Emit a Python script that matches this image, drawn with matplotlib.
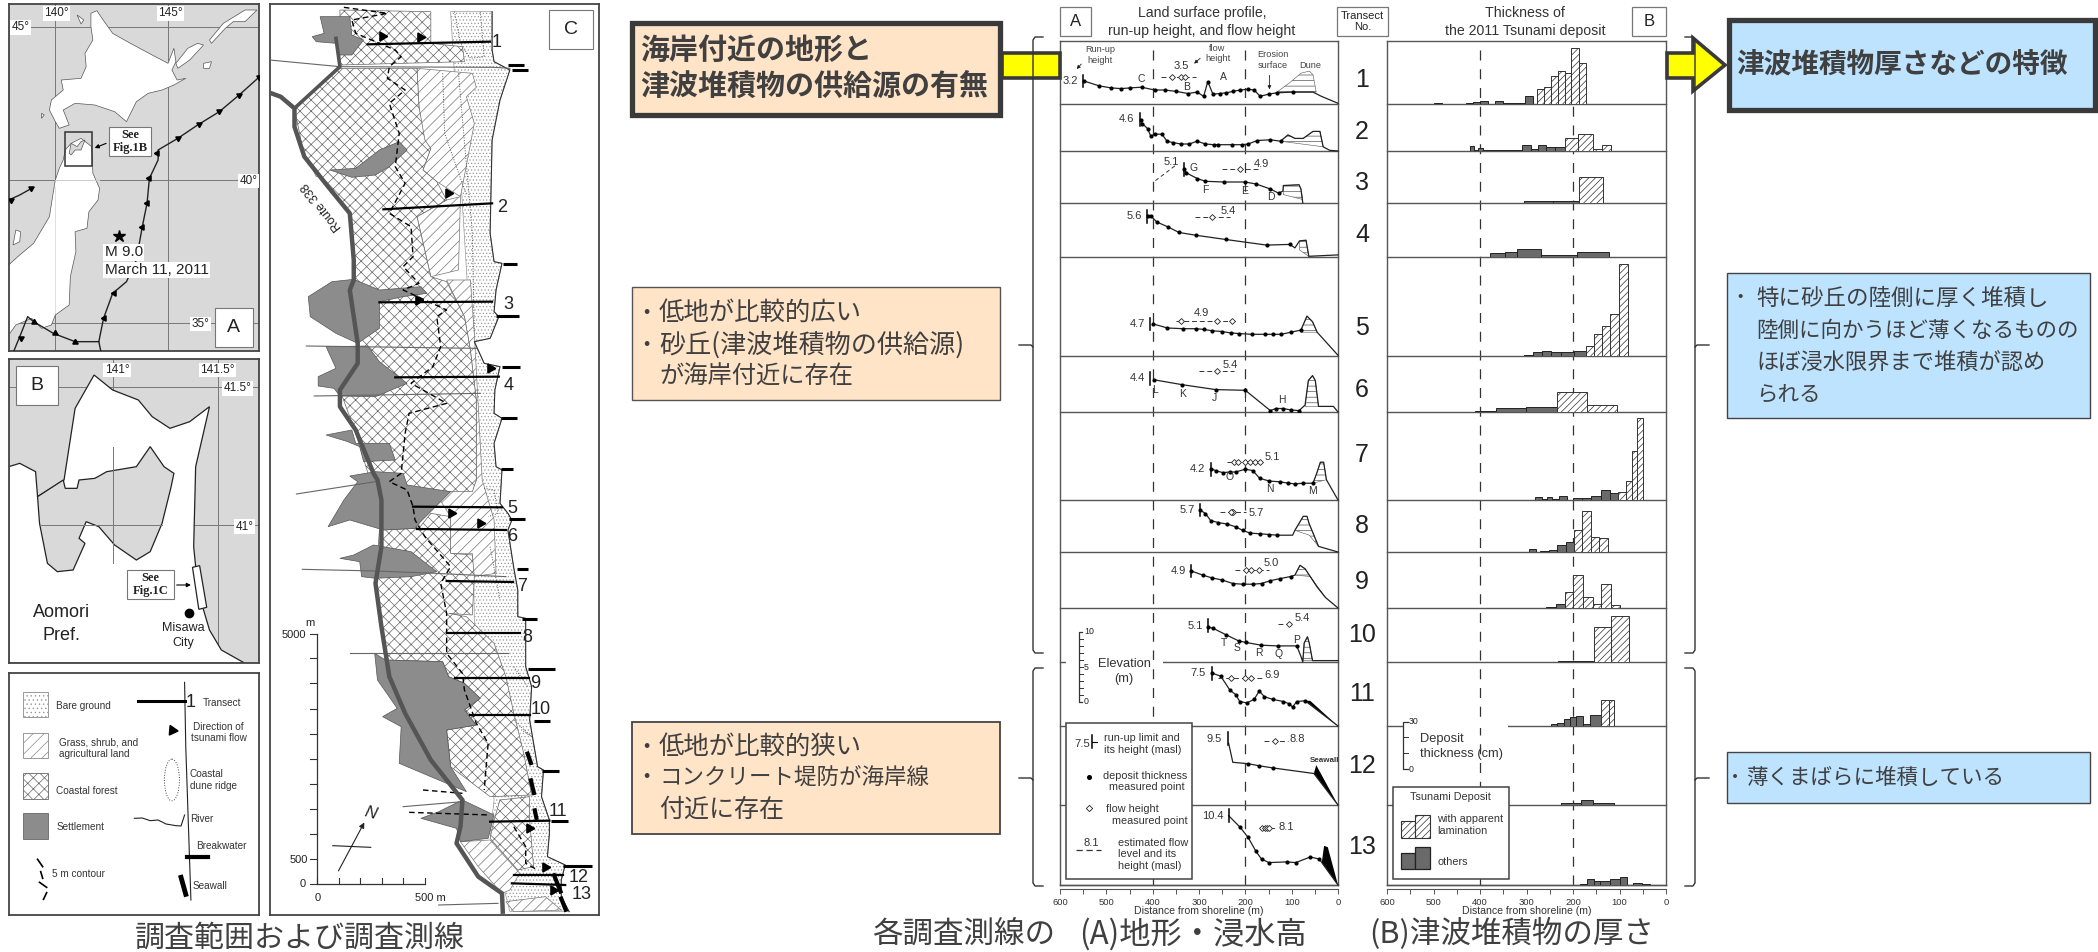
import numpy as np
import matplotlib
matplotlib.use("Agg")
import matplotlib.pyplot as plt
from matplotlib.patches import Polygon, Rectangle, Ellipse

W, H = 2098, 952
JP = ['Noto Sans CJK JP', 'DejaVu Sans']
plt.rcParams['font.family'] = ['Liberation Sans', 'DejaVu Sans']
plt.rcParams['hatch.linewidth'] = 0.5

# row boundaries of the two transect panels, figure pixels
ROW_TOP = [41, 104, 151, 203, 257, 356, 412, 500, 552, 608, 662, 726, 805]
ROW_BOT = [104, 151, 203, 257, 356, 412, 500, 552, 608, 662, 726, 805, 885]
ROW_NO_Y = [80, 132, 183, 235, 328, 390, 455, 526, 582, 635, 694, 766, 847]

# panel A: land surface profile, distance from shoreline (m), elevation (m)
D1 = [549, 516, 490, 468, 448, 424, 396, 374, 349, 324, 304, 290, 281, 270, 255, 241, 227, 211, 194, 181, 168, 150, 132, 97, 54, 36, 0]
E1 = [3.3, 2.6, 2.3, 2.2, 2.3, 2.4, 2.0, 2.0, 1.8, 1.5, 1.7, 1.1, 3.2, 1.4, 1.5, 1.6, 1.8, 2.0, 2.1, 2.0, 1.1, 1.4, 1.6, 1.7, 1.7, 1.1, 0.1]
D2 = [426, 422, 411, 404, 396, 380, 369, 356, 339, 321, 304, 286, 268, 258, 229, 207, 194, 174, 146, 124, 108, 93, 75, 54, 39, 32, 18, 0]
E2 = [4.5, 3.9, 3.2, 2.1, 2.4, 2.4, 1.4, 1.2, 1.0, 1.0, 1.4, 1.0, 0.9, 0.9, 0.9, 0.9, 1.0, 1.5, 1.6, 1.4, 2.3, 1.8, 1.8, 2.8, 2.8, 0.6, 0.1, 0]
D3 = [332, 327, 304, 286, 246, 200, 176, 146, 128, 119, 118, 84, 80, 76]
E3 = [4.9, 4.3, 3.5, 3.1, 3.0, 3.0, 2.7, 2.0, 1.4, 1.7, 2.5, 2.6, 2.0, 0]
D4 = [411, 403, 391, 367, 343, 306, 242, 154, 104, 93, 83, 69, 63, 0]
E4 = [5.9, 5.8, 5.0, 4.3, 3.5, 3.1, 2.5, 1.7, 1.8, 1.3, 2.3, 2.4, 0.1, 0.3]
D5 = [400, 368, 334, 306, 290, 271, 251, 232, 213, 185, 157, 141, 122, 102, 80, 67, 55, 45, 0]
E5 = [4.6, 4.0, 3.9, 3.9, 3.8, 3.6, 3.5, 3.3, 3.2, 3.1, 3.1, 3.1, 3.1, 3.4, 3.7, 5.7, 4.9, 3.4, 0.1]
D6 = [397, 336, 264, 200, 146, 134, 119, 102, 84, 71, 64, 55, 49, 42, 10, 0]
E6 = [4.6, 3.9, 3.2, 3.1, 0.2, 0.5, 0.5, 0.3, 0.2, 1.0, 4.5, 5.2, 4.5, 0.8, 0.8, 0]
D7 = [275, 264, 248, 234, 221, 200, 184, 169, 148, 125, 107, 93, 75, 54, 46, 38, 31, 25, 0]
E7 = [4.5, 4.2, 3.9, 4.0, 4.0, 4.4, 4.2, 3.1, 2.7, 2.6, 2.4, 2.3, 2.4, 2.4, 3.8, 5.4, 5.4, 2.9, 0]
D8 = [298, 286, 275, 258, 240, 221, 206, 190, 168, 149, 131, 98, 93, 75, 67, 62, 42, 0]
E8 = [6.0, 5.5, 4.5, 4.2, 4.0, 3.6, 3.1, 2.7, 2.6, 2.5, 2.4, 2.4, 3.1, 5.1, 5.1, 4.0, 0.8, 0]
D9 = [317, 292, 272, 250, 227, 206, 184, 165, 146, 125, 102, 93, 82, 71, 45, 27, 0]
E9 = [5.3, 4.7, 4.3, 4.0, 3.5, 3.4, 3.4, 3.5, 3.9, 4.2, 4.5, 4.7, 6.1, 5.6, 3.0, 1.5, 0]
D10 = [280, 269, 242, 214, 199, 166, 129, 89, 80, 76, 73, 66, 62, 55, 0]
E10 = [5.0, 4.8, 3.9, 3.0, 2.8, 2.4, 2.3, 2.3, 0.8, 0, 2.7, 3.6, 2.7, 0.2, 0.2]
D11 = [273, 253, 233, 221, 212, 197, 181, 170, 159, 141, 118, 106, 98, 89, 71, 0]
E11 = [7.6, 7.1, 5.1, 4.5, 3.5, 3.3, 3.8, 5.0, 4.2, 3.8, 3.5, 3.2, 2.7, 3.5, 3.6, 0]
D12 = [236, 227, 194, 170, 141, 52, 0]
E12 = [8.8, 6.1, 5.9, 5.6, 5.3, 4.5, 0]
D13 = [236, 212, 194, 177, 165, 149, 111, 91, 60, 40, 35, 0]
E13 = [9.9, 8.3, 6.8, 4.8, 3.7, 3.2, 3.3, 3.2, 4.0, 3.7, 3.2, 0]
PROF_D = [D1, D2, D3, D4, D5, D6, D7, D8, D9, D10, D11, D12, D13]
PROF_E = [E1, E2, E3, E4, E5, E6, E7, E8, E9, E10, E11, E12, E13]
# which profile points carry a deposit thickness dot (first, last+1)
DOT_RANGE = [(0, 24), (0, 20), (0, 9), (0, 9), (0, 15), (0, 9), (0, 14), (0, 11), (0, 11), (0, 8), (0, 15), (2, 5), (1, 10)]

# dune outlines, hatched
DUNE_D = [[132, 105, 80, 62, 54, 47], [124, 108, 93, 75, 54, 39, 32], [118, 84, 80, 76, 118], [83, 69, 63, 83],
          [80, 67, 55, 45, 80], [71, 64, 55, 49, 42, 71], [46, 38, 31, 25, 54], [93, 75, 67, 62, 42, 62],
          [93, 82, 71, 45, 27, 60], [73, 66, 62, 55, 76]]
DUNE_E = [[1.7, 3.0, 4.4, 4.7, 4.2, 1.7], [1.4, 2.3, 1.8, 1.8, 2.8, 2.8, 0.6], [2.5, 2.6, 2.0, 0.5, 1.2], [2.3, 2.4, 0.1, 1.0],
          [3.7, 5.7, 4.9, 3.4, 3.4], [1.0, 4.5, 5.2, 4.5, 0.8, 0.8], [3.8, 5.4, 5.4, 2.9, 2.4], [3.1, 5.1, 5.1, 4.0, 0.8, 2.4],
          [4.7, 6.1, 5.6, 3.0, 1.5, 4.5], [2.7, 3.6, 2.7, 0.2, 0.2]]
# seawalls of transects 11, 12, 13
WALL_D = [[71, 60, 0], [52, 47, 0], [35, 30, 22, 0]]
WALL_E = [[3.6, 3.6, 0], [4.5, 5.7, 0], [3.2, 5.6, 5.4, 0]]

# run-up limit
RUNUP_D = [550, 427, 333, 412, 405, 405, 275, 298, 317, 280, 273, 238, 236]
RUNUP_E = [3.3, 4.5, 4.8, 5.8, 4.6, 4.8, 4.4, 6.0, 5.3, 5.2, 7.5, 9.5, 9.9]
RUNUP_TXT = ['3.2', '4.6', '', '5.6', '4.7', '4.4', '4.2', '5.7', '4.9', '5.1', '7.5', '9.5', '10.4']

# flow height
FLOW_MARK = [[359, 339, 330], [], [212], [271], [339, 262, 229], [262], [225, 216, 200, 189, 179, 169],
             [229, 226, 232], [199, 187, 170], [106], [231, 200, 187], [135], [163, 157, 153, 148]]
FLOW_FROM = [383, None, 250, 308, 350, 301, 239, 254, 222, 130, 260, 159, 163]
FLOW_TO = [307, None, 172, 234, 216, 225, 161, 199, 149, 98, 163, 108, 134]
FLOW_E = [3.9, None, 4.8, 5.7, 5.0, 5.8, 5.4, 5.7, 5.4, 5.5, 6.9, 9.1, 8.1]
FLOW_TXT = ['3.5', '', '4.9', '5.4', '4.9', '5.4', '5.1', '5.7', '5.0', '5.4', '6.9', '8.8', '8.1']
FLOW_TXT_D = [339, 0, 166, 238, 295, 232, 141, 177, 144, 78, 143, 87, 111]
FLOW_TXT_E = [5.4, 0, 5.6, 6.6, 6.1, 6.7, 6.1, 5.6, 6.5, 6.3, 7.3, 9.4, 8.3]

# site letters: row, distance, elevation
LETTER = ['C', 'B', 'A', 'G', 'F', 'E', 'D', 'L', 'K', 'J', 'I', 'H', 'O', 'N', 'M', 'T', 'S', 'R', 'Q', 'P']
LETTER_ROW = [0, 0, 0, 2, 2, 2, 2, 5, 5, 5, 5, 5, 6, 6, 6, 9, 9, 9, 9, 9]
LETTER_D = [425, 326, 247, 311, 286, 201, 145, 394, 335, 266, 200, 121, 234, 147, 56, 247, 219, 170, 128, 90]
LETTER_E = [3.5, 2.5, 3.8, 5.0, 1.8, 1.7, 0.8, 3.2, 2.6, 2.0, 1.9, 1.7, 3.3, 1.5, 1.3, 2.7, 2.0, 1.3, 1.2, 3.2]

# panel B: deposit thickness (cm), bar edges in m from shoreline
TE1 = [500, 481, 430, 416, 399, 382, 368, 351, 336, 320, 304, 286, 277, 263, 248, 233, 218, 204, 188, 173]
TH1 = [0.4, 0, 0.8, 1.5, 2, 0.3, 1.7, 0.5, 0.7, 0.6, 5.2, 0, 9.6, 10.4, 17.7, 20.8, 19.4, 35, 25.6]
TE2 = [422, 412, 404, 393, 309, 291, 276, 257, 238, 218, 190, 157, 137, 118]
TH2 = [3.1, 0.5, 2, 0.4, 3.5, 1.5, 4, 2.8, 2.5, 8, 10.4, 1.5, 3.8]
TE3 = [333, 306, 243, 188, 136]
TH3 = [0.3, 1.2, 1.3, 16]
TE4 = [379, 346, 320, 268, 191, 122]
TH4 = [2.3, 3, 5.2, 1.2, 3.3]
TE5 = [402, 305, 286, 267, 248, 226, 197, 173, 155, 137, 120, 101, 81]
TH5 = [0.3, 0.8, 2.8, 3, 2.4, 2.8, 3.2, 6.2, 14, 18.8, 26, 57.7]
TE6 = [410, 366, 301, 235, 169, 105]
TH6 = [0.5, 2.5, 3.2, 12.5, 4.2]
TE7 = [282, 266, 256, 245, 230, 212, 199, 181, 161, 139, 120, 104, 87, 73, 62, 49]
TH7 = [2, 0.5, 2, 0.5, 2.2, 0.3, 1, 1.2, 2.5, 6.2, 4.2, 5, 11.9, 30.6, 51]
TE8 = [294, 280, 272, 252, 235, 216, 198, 180, 162, 144, 125]
TH8 = [2, 0, 0.6, 1.2, 4.2, 6.2, 14, 25.6, 9.4, 9]
TE9 = [257, 237, 218, 199, 178, 158, 139, 119, 98]
TH9 = [0.6, 2.3, 10, 20.4, 7, 2.3, 15.2, 1.7]
TE10 = [257, 232, 154, 118, 79]
TH10 = [0.1, 0.5, 21.7, 28.8]
TE11 = [261, 248, 235, 220, 206, 193, 179, 164, 139, 123, 112]
TH11 = [0.2, 1.2, 2, 4.4, 5.6, 6.5, 1, 7.1, 16.5, 16.5]
TE12 = [226, 182, 156, 112]
TH12 = [1.5, 3, 1.5]
TE13 = [199, 186, 169, 155, 141, 120, 98, 83, 70, 52, 35]
TH13 = [0.2, 0.8, 3.7, 2.5, 2.5, 3.7, 4.8, 0.2, 1.2, 0.5]
THK_E = [TE1, TE2, TE3, TE4, TE5, TE6, TE7, TE8, TE9, TE10, TE11, TE12, TE13]
THK_H = [TH1, TH2, TH3, TH4, TH5, TH6, TH7, TH8, TH9, TH10, TH11, TH12, TH13]
# index of first bar with apparent lamination
LAM_FROM = [12, 9, 3, 5, 7, 3, 11, 6, 2, 2, 8, 3, 10]

# map A, traced outlines (map units)
HOKKAIDO = [(230, 40), (245, 32), (258, 55), (285, 100), (330, 130), (385, 165), (425, 190), (440, 145), (445, 185), (435, 210), (448, 240), (470, 235),
            (440, 255), (410, 270), (375, 280), (345, 305), (320, 365), (290, 335), (240, 315), (190, 310), (160, 330), (175, 375), (150, 385), (140, 365),
            (125, 330), (130, 300), (160, 270), (155, 240), (205, 235), (218, 200), (215, 160), (235, 120), (230, 80)]
HONSHU = [(180, 430), (165, 450), (160, 480), (150, 505), (140, 540), (135, 575), (125, 650), (85, 730), (45, 770), (22, 795), (22, 1005), (40, 975),
          (80, 955), (105, 985), (130, 975), (140, 945), (175, 915), (178, 830), (192, 755), (190, 695), (220, 685), (225, 635), (248, 600), (252, 565),
          (235, 520), (232, 440), (205, 415)]
ISLANDS = [[(620, 30), (650, 30), (620, 65), (590, 65), (570, 85), (535, 130), (530, 120), (565, 70)],
           [(500, 130), (515, 135), (480, 180), (450, 205), (445, 190), (475, 145)],
           [(515, 190), (535, 185), (530, 205), (515, 205)], [(40, 690), (52, 695), (50, 725), (33, 735)],
           [(195, 45), (212, 60), (205, 72)], [(105, 340), (112, 345), (105, 355)]]
MUTSU_BAY = [(180, 430), (195, 440), (205, 425), (215, 420), (205, 450), (190, 450), (180, 465), (175, 460)]
TRENCH_1 = [(655, 232), (605, 285), (555, 335), (500, 375), (450, 415), (400, 450), (400, 480), (378, 535), (372, 610), (360, 680), (345, 780),
            (320, 845), (285, 880), (262, 955), (250, 1025), (255, 1053)]
TRENCH_2 = [(250, 1025), (190, 1025), (135, 1000), (85, 965), (70, 950), (50, 1010), (35, 1053)]
TRENCH_3 = [(22, 600), (50, 585), (80, 565)]
TRI_X = [655, 605, 553, 503, 450, 398, 378, 372, 360, 288, 262, 190, 138, 87, 52, 78, 28]
TRI_Y = [232, 285, 332, 373, 415, 460, 533, 608, 682, 880, 955, 1025, 1000, 965, 1015, 565, 600]
TRI_ROT = [60, 60, 60, 60, 60, 90, 90, 90, 90, 90, 90, 0, 0, 0, 300, 60, 60]

# map B
B_LAND = [(162, 1440), (190, 1225), (238, 1125), (285, 1170), (350, 1200), (385, 1250), (430, 1285), (480, 1265), (530, 1220), (495, 1400), (490, 1640),
          (495, 1700), (510, 1810), (530, 1890), (560, 1950), (620, 1990), (22, 1990), (22, 1400), (50, 1390), (90, 1415), (95, 1490)]
B_BAY = [(95, 1490), (100, 1570), (120, 1690), (145, 1715), (185, 1710), (215, 1630), (200, 1615), (218, 1565), (250, 1580), (290, 1635), (345, 1680),
         (380, 1655), (410, 1570), (433, 1460), (440, 1420), (415, 1400), (380, 1340), (345, 1400), (270, 1415), (240, 1435), (200, 1440), (195, 1465), (165, 1465),
         (160, 1440)]
B_SITE = [(487, 1702), (505, 1697), (523, 1822), (503, 1828)]

# map C land use
COAST_C = [(1245, 35), (1245, 150), (1250, 185), (1290, 210), (1265, 300), (1245, 420), (1240, 700), (1250, 785), (1270, 790), (1255, 870), (1250, 935),
           (1262, 950), (1240, 1015), (1200, 1025), (1225, 1090), (1265, 1100), (1252, 1170), (1250, 1240), (1270, 1255), (1250, 1330), (1255, 1400), (1270, 1410),
           (1265, 1510), (1285, 1540), (1295, 1560), (1285, 1590), (1300, 1705), (1310, 1770), (1310, 1850), (1330, 1855), (1330, 2000), (1345, 2060), (1340, 2160),
           (1360, 2300), (1375, 2310), (1370, 2390), (1390, 2460), (1390, 2500), (1385, 2570), (1430, 2595), (1420, 2640), (1420, 2690), (1440, 2735)]
BARE_BACK = [(1290, 2735), (1240, 2500), (1250, 2400), (1200, 1860), (1190, 1000), (1140, 35)]
FOREST_C = [[(860, 30), (860, 195), (1175, 185), (1170, 140), (1090, 130), (1090, 35)],
            [(860, 205), (1055, 205), (1060, 320), (1075, 420), (1090, 445), (1070, 510), (1105, 545), (1130, 600), (1055, 650), (1090, 830), (1130, 845), (1175, 950),
             (1190, 1050), (1205, 1200), (1205, 1440), (1195, 1475), (1100, 1475), (1060, 1560), (1060, 1585), (975, 1590), (900, 1300), (860, 1170), (905, 1030),
             (895, 840), (885, 640), (770, 470), (745, 325)],
            [(960, 1590), (1060, 1585), (1090, 1540), (1140, 1550), (1140, 1660), (1195, 1665), (1200, 1730), (1195, 1845), (1135, 1840), (1180, 1850), (1250, 1930),
             (1280, 2030), (1300, 2140), (1325, 2260), (1345, 2385), (1240, 2390), (1140, 2300), (1130, 2190), (1205, 2175), (1175, 2130), (1215, 2095), (1175, 2050),
             (1135, 2030), (1120, 1985), (975, 1980), (950, 1740)],
            [(1240, 2515), (1250, 2460), (1265, 2400), (1340, 2390), (1340, 2460), (1350, 2600), (1310, 2610)]]
GRASS_C = [[(1055, 205), (1195, 220), (1205, 262), (1180, 290), (1200, 370), (1165, 590), (1105, 545), (1070, 510), (1090, 445), (1070, 420), (1060, 320)],
           [(1130, 600), (1165, 590), (1160, 810), (1090, 830), (1055, 650)],
           [(750, 360), (860, 370), (1005, 440), (1000, 480), (900, 530), (800, 530), (780, 480)],
           [(1130, 840), (1190, 840), (1200, 1000), (1220, 1440), (1250, 1560), (1255, 1720), (1195, 1730), (1195, 1660), (1140, 1660), (1140, 1550), (1100, 1475),
            (1195, 1470), (1205, 1440), (1205, 1200), (1190, 1050), (1175, 950)],
           [(1165, 2525), (1240, 2520), (1315, 2620), (1290, 2670), (1270, 2680), (1210, 2600)],
           [(1280, 2705), (1380, 2690), (1420, 2730), (1300, 2735)], [(930, 135), (1005, 135), (1005, 168), (930, 168)]]
SETTLE_C = [[(810, 50), (885, 50), (890, 105), (920, 120), (890, 165), (860, 165), (850, 130), (800, 125), (790, 110), (820, 100)],
            [(835, 510), (900, 505), (960, 450), (1010, 425), (1030, 450), (985, 500), (950, 525), (890, 532)],
            [(780, 890), (840, 845), (895, 838), (960, 870), (1065, 860), (1080, 880), (1020, 890), (960, 905), (960, 985), (905, 1030), (850, 1000), (785, 950)],
            [(825, 1040), (930, 1038), (960, 1085), (1030, 1150), (1000, 1165), (950, 1190), (860, 1188), (845, 1165), (805, 1158), (805, 1130), (850, 1105)],
            [(825, 1305), (890, 1290), (900, 1330), (985, 1330), (1000, 1380), (920, 1385), (910, 1340), (880, 1325)],
            [(885, 1428), (950, 1415), (1020, 1420), (1030, 1455), (1140, 1475), (1060, 1570), (1050, 1585), (970, 1590), (885, 1560), (830, 1580), (870, 1500), (905, 1445)],
            [(860, 1675), (895, 1665), (945, 1635), (1040, 1655), (1105, 1715), (1040, 1730), (950, 1735), (915, 1730), (910, 1685)],
            [(948, 1960), (975, 1980), (1120, 1985), (1135, 2030), (1175, 2050), (1215, 2095), (1175, 2130), (1205, 2175), (1130, 2190), (1140, 2300), (1180, 2375),
             (1010, 2290), (1015, 2180), (968, 2150), (1005, 2125), (955, 2040)],
            [(1065, 2455), (1110, 2435), (1170, 2400), (1250, 2445), (1235, 2515), (1165, 2525), (1155, 2485)]]
ROAD = [(682, 278), (710, 290), (745, 325), (745, 380), (770, 470), (830, 560), (885, 640), (895, 780), (895, 840), (885, 870), (895, 950), (905, 1030), (905, 1090),
        (860, 1170), (860, 1220), (900, 1290), (945, 1420), (955, 1440), (965, 1500), (965, 1640), (950, 1750), (965, 1880), (985, 2030), (1025, 2140), (1090, 2280),
        (1170, 2400), (1165, 2480), (1155, 2530), (1210, 2630), (1270, 2680), (1272, 2735)]
ROAD_BRANCH = [(745, 325), (860, 200), (850, 115)]
CONTOUR = [(870, 22), (980, 40), (890, 60), (900, 100), (1000, 150), (1015, 170), (985, 200), (980, 235), (1025, 270), (985, 310), (1010, 400), (1000, 500), (1025, 550),
           (985, 640), (1040, 680), (1045, 770), (1020, 800), (1060, 850), (1020, 870), (1130, 930), (1105, 950), (1115, 1040), (1095, 1100), (1040, 1150), (1130, 1210),
           (1035, 1240), (1025, 1300), (1015, 1420), (985, 1445), (1030, 1470), (1045, 1520), (1050, 1560), (1075, 1610), (1140, 1700), (1115, 1750), (1130, 1840), (1130, 1960),
           (1170, 2020), (1175, 2070), (1205, 2170), (1235, 2230), (1225, 2370)]
CONTOUR_2 = [(1300, 2480), (1330, 2540), (1330, 2590), (1360, 2610)]
CONTOUR_3 = [(1070, 2370), (1170, 2380)]
CONTOUR_4 = [(1035, 2437), (1240, 2445)]
RIVERS = [[(682, 180), (860, 200), (1250, 202), (1290, 205)], [(775, 1038), (1205, 1045)], [(795, 1188), (1215, 1180)],
          [(750, 1482), (950, 1445)], [(765, 1708), (950, 1713), (1100, 1720), (1280, 1730)], [(885, 1958), (1285, 1958)],
          [(1110, 2715), (1260, 2710)], [(1020, 2420), (1170, 2405)]]
DUNE_RIDGE = [[(1150, 35), (1165, 130), (1190, 175), (1225, 170), (1215, 35)], [(1120, 220), (1125, 400), (1180, 585)], [(1160, 220), (1195, 700), (1200, 1000)],
              [(1225, 1465), (1250, 1470), (1260, 1540), (1235, 1550)], [(1240, 1640), (1265, 1800)], [(1300, 2000), (1335, 2060)], [(1300, 2160), (1345, 2210), (1320, 2190)]]

TR_X0 = [930, 970, 960, 1000, 1045, 1055, 1130, 1130, 1150, 1190, 1240, 1300, 1295]
TR_Y0 = [133, 628, 907, 1132, 1520, 1587, 1743, 1898, 2035, 2145, 2465, 2625, 2650]
TR_X1 = [1240, 1245, 1245, 1262, 1270, 1280, 1298, 1315, 1338, 1340, 1390, 1425, 1430]
TR_Y1 = [125, 610, 905, 1130, 1522, 1590, 1746, 1898, 2035, 2145, 2462, 2625, 2655]
TR_LX = [1257, 1270, 1285, 1288, 1295, 1297, 1322, 1335, 1355, 1367, 1412, 1465, 1472]
TR_LY = [127, 622, 912, 1155, 1525, 1610, 1758, 1912, 2050, 2128, 2435, 2632, 2683]
BW_X0 = [1285, 1295, 1272, 1255, 1270, 1268, 1268, 1288, 1307, 1320, 1337, 1350, 1370, 1395, 1425]
BW_X1 = [1325, 1335, 1308, 1312, 1315, 1308, 1298, 1328, 1337, 1358, 1405, 1392, 1415, 1438, 1497]
BW_Y = [195, 210, 792, 948, 1100, 1253, 1408, 1557, 1708, 1857, 2006, 2162, 2313, 2463, 2598]
SW_X0 = [1333, 1342, 1352, 1400, 1418]
SW_Y0 = [2255, 2335, 2425, 2620, 2690]
SW_X1 = [1345, 1352, 1358, 1420, 1433]
SW_Y1 = [2295, 2385, 2460, 2680, 2735]
FLOW_ARROW_X = [967, 1063, 1133, 1058, 1240, 1140, 1215, 1338, 1380, 1400]
FLOW_ARROW_Y = [108, 110, 580, 900, 1105, 1540, 1570, 2485, 2600, 2670]
SCALE_TICK_Y = [1902, 1975, 2050, 2127, 2202, 2277, 2352, 2427, 2502, 2578, 2653]
SCALE_TICK_X = [803, 857, 912, 967, 1020, 1075]

LIGHT = '#D9D9D9'
GREY = '#8C8C8C'
DARK = '#3A3A3A'
TXT = '#404040'
EDGE = '#555555'
ORANGE = '#FFE4C8'
BLUE = '#BDE3FF'

fig = plt.figure(figsize=(W / 100, H / 100), dpi=100, facecolor='white')


def ax_px(x0, y0, x1, y1, **kw):
    return fig.add_axes([x0 / W, 1 - y1 / H, (x1 - x0) / W, (y1 - y0) / H], **kw)


def map_ax(x0, y0, x1, y1, bg='white', z=1):
    # traced panels: one unit is 1/2.53 px across and 1/3 px down
    ax = ax_px(x0 / 2.53, y0 / 3, x1 / 2.53, y1 / 3, zorder=z)
    ax.set_xlim(x0, x1)
    ax.set_ylim(y1, y0)
    ax.set_xticks([])
    ax.set_yticks([])
    ax.set_facecolor(bg)
    for s in ax.spines.values():
        s.set_color('#444444')
        s.set_linewidth(1.3)
    return ax


def poly(ax, pts, fc='white', ec=EDGE, lw=0.5, hatch=None, z=2):
    ax.add_patch(Polygon(pts, closed=True, facecolor=fc, edgecolor=ec, linewidth=lw, hatch=hatch, zorder=z))


def pline(ax, pts, **kw):
    ax.plot([p[0] for p in pts], [p[1] for p in pts], **kw)


def box_lab(ax, x0, y0, x1, y1, s, size=14, **kw):
    ax.add_patch(Rectangle((x0, y0), x1 - x0, y1 - y0, facecolor='white', edgecolor='#777777', linewidth=0.8, zorder=6))
    ax.text((x0 + x1) / 2, (y0 + y1) / 2, s, ha='center', va='center', fontsize=size, zorder=7, color='#222222', **kw)


# ---- map A
a = map_ax(22, 12, 655, 1053, LIGHT)
for x in [138, 424]:
    a.axvline(x, color='#777777', lw=0.7, zorder=1)
for y in [80, 540, 970]:
    a.axhline(y, color='#777777', lw=0.7, zorder=1)
poly(a, HOKKAIDO, ec='#555555')
poly(a, HONSHU, ec='#555555')
for isl in ISLANDS:
    poly(a, isl, ec='#555555')
poly(a, MUTSU_BAY, fc=LIGHT)
a.plot([138, 138], [560, 940], color='#DDDDDD', lw=0.7, zorder=3)
a.plot([138, 250], [540, 540], color='#CCCCCC', lw=0.7, zorder=3)
for tr in [TRENCH_1, TRENCH_2, TRENCH_3]:
    pline(a, tr, color='#222222', lw=1.0, zorder=4)
for x, y, r in zip(TRI_X, TRI_Y, TRI_ROT):
    a.plot(x, y, marker=(3, 0, r), ms=4.5, color='black', zorder=5)
a.add_patch(Rectangle((165, 397), 68, 100, fill=False, ec='#333333', lw=1.1, zorder=5))
a.plot(300, 708, marker='*', ms=9, color='black', zorder=5)
bb = dict(facecolor='white', edgecolor='none', pad=1)
for x, y, s in [(143, 40, '140°'), (432, 40, '145°'), (52, 82, '45°'), (628, 543, '40°'), (507, 972, '35°')]:
    a.text(x, y, s, ha='center', va='center', fontsize=8.5, bbox=bb, zorder=6, color='#222222')
a.text(265, 757, 'M 9.0', fontsize=11, va='center', bbox=bb, zorder=6, color='#222222')
a.text(265, 810, 'March 11, 2011', fontsize=11, va='center', bbox=bb, zorder=6, color='#222222')
a.add_patch(Rectangle((275, 380), 108, 88, facecolor='white', edgecolor='#777777', lw=0.8, zorder=6))
a.text(329, 424, 'See\nFig.1B', ha='center', va='center', fontsize=9, family='Liberation Serif', weight='bold', zorder=7, color='#222222', linespacing=1.1)
a.annotate('', xy=(233, 447), xytext=(275, 427), arrowprops=dict(arrowstyle='-|>', lw=0.8, color='black', mutation_scale=6), zorder=7)
box_lab(a, 543, 923, 640, 1040, 'A')

# ---- map B
b = map_ax(22, 1078, 655, 1990, LIGHT)
b.axvline(285, color='#777777', lw=0.7, zorder=1)
b.axvline(552, color='#777777', lw=0.7, zorder=1)
b.axhline(1162, color='#777777', lw=0.7, zorder=1)
b.axhline(1575, color='#777777', lw=0.7, zorder=1)
poly(b, B_LAND, ec='#222222', lw=0.9)
poly(b, B_BAY, fc=LIGHT, ec='#222222', lw=0.9)
b.plot([285, 285], [1340, 1690], color='#777777', lw=0.7, zorder=3)
b.plot([100, 410], [1575, 1575], color='#777777', lw=0.7, zorder=3)
for x, y, s in [(296, 1110, '141°'), (550, 1110, '141.5°'), (600, 1165, '41.5°'), (618, 1580, '41°')]:
    b.text(x, y, s, ha='center', va='center', fontsize=8.5, bbox=bb, zorder=6, color='#222222')
box_lab(b, 40, 1098, 147, 1215, 'B')
poly(b, B_SITE, ec='#222222', lw=0.9, z=4)
b.add_patch(Rectangle((322, 1710), 118, 88, facecolor='white', edgecolor='#777777', lw=0.8, zorder=6))
b.text(381, 1754, 'See\nFig.1C', ha='center', va='center', fontsize=9, family='Liberation Serif', weight='bold', zorder=7, color='#222222', linespacing=1.1)
b.annotate('', xy=(490, 1755), xytext=(440, 1755), arrowprops=dict(arrowstyle='-|>', lw=0.8, color='black', mutation_scale=6), zorder=7)
b.plot(478, 1838, 'o', ms=6, color='black', zorder=5)
b.text(463, 1883, 'Misawa', ha='center', va='center', fontsize=9, zorder=6, color='#222222')
b.text(463, 1928, 'City', ha='center', va='center', fontsize=9, zorder=6, color='#222222')
b.text(155, 1837, 'Aomori', ha='center', va='center', fontsize=13, zorder=6, color='#222222')
b.text(155, 1905, 'Pref.', ha='center', va='center', fontsize=13, zorder=6, color='#222222')

# ---- map legend
c = map_ax(22, 2018, 655, 2745)
lab = dict(fontsize=7.2, va='center', color='#333333')
c.add_patch(Rectangle((58, 2077), 64, 75, facecolor='white', edgecolor='#999999', lw=0.7, hatch='....'))
c.text(142, 2117, 'Bare ground', **lab)
c.add_patch(Rectangle((58, 2200), 64, 75, facecolor='white', edgecolor='#888888', lw=0.6, hatch='///'))
c.text(150, 2227, 'Grass, shrub, and', **lab)
c.text(150, 2262, 'agricultural land', **lab)
c.add_patch(Rectangle((58, 2320), 64, 77, facecolor='white', edgecolor='#666666', lw=0.6, hatch='xxx'))
c.text(142, 2372, 'Coastal forest', **lab)
c.add_patch(Rectangle((58, 2440), 64, 78, facecolor=GREY, edgecolor='#666666', lw=0.6))
c.text(142, 2481, 'Settlement', **lab)
c.plot([467, 470, 483], [2047, 2240, 2700], color='#222222', lw=0.8)
c.plot([350, 467], [2102, 2102], color='black', lw=2.2)
c.text(482, 2107, '1', fontsize=13, ha='center', va='center', color='#222222')
c.text(513, 2108, 'Transect', **lab)
c.plot(435, 2190, marker=(3, 0, 25), ms=8, color='black')
c.text(488, 2180, 'Direction of', **lab)
c.text(482, 2214, 'tsunami flow', **lab)
c.add_patch(Ellipse((435, 2340), 38, 125, fill=False, ec='#444444', lw=0.7, ls=':'))
c.text(480, 2322, 'Coastal', **lab)
c.text(480, 2357, 'dune ridge', **lab)
c.plot([340, 360, 380, 400, 420, 445, 458, 467], [2455, 2454, 2462, 2460, 2472, 2477, 2478, 2445], color='#222222', lw=0.8)
c.text(482, 2458, 'River', **lab)
c.plot([472, 525], [2572, 2572], color='black', lw=3)
c.text(497, 2538, 'Breakwater', **lab)
c.plot([458, 470], [2632, 2683], color='black', lw=3.5)
c.text(487, 2658, 'Seawall', **lab)
for x0, y0, x1, y1 in [(95, 2578, 108, 2600), (103, 2615, 108, 2635), (100, 2647, 118, 2662), (118, 2678, 110, 2698)]:
    c.plot([x0, x1], [y0, y1], color='black', lw=1.2)
c.text(132, 2623, '5 m contour', **lab)

# ---- map C
d = map_ax(682, 12, 1515, 2745, z=1)
poly(d, COAST_C + BARE_BACK, fc='white', ec='#999999', hatch='.....', z=1)
pline(d, COAST_C, color='#333333', lw=0.8, zorder=4)
for g in GRASS_C:
    poly(d, g, ec='#777777', hatch='///', z=2)
for f in FOREST_C:
    poly(d, f, ec='#666666', hatch='xxx', z=3)
for s in SETTLE_C:
    poly(d, s, fc=GREY, ec='#555555', z=4)
for r in RIVERS:
    pline(d, r, color='#666666', lw=0.8, zorder=5)
for r in DUNE_RIDGE:
    pline(d, r, color='#555555', lw=0.7, ls=':', zorder=5)
for ct in [CONTOUR, CONTOUR_2, CONTOUR_3, CONTOUR_4]:
    pline(d, ct, color='black', lw=1.0, ls=(0, (4, 2.5)), zorder=6)
pline(d, ROAD, color='#555555', lw=3.2, zorder=7, solid_joinstyle='round')
pline(d, ROAD_BRANCH, color='#555555', lw=2.6, zorder=7)
for i in range(13):
    d.plot([TR_X0[i], TR_X1[i]], [TR_Y0[i], TR_Y1[i]], color='black', lw=1.6, zorder=8)
    d.text(TR_LX[i], TR_LY[i], str(i + 1), fontsize=13, ha='center', va='center', zorder=9, color='#222222')
for x0, x1, y in zip(BW_X0, BW_X1, BW_Y):
    d.plot([x0, x1], [y, y], color='black', lw=2.2, zorder=8, solid_capstyle='butt')
for x0, y0, x1, y1 in zip(SW_X0, SW_Y0, SW_X1, SW_Y1):
    d.plot([x0, x1], [y0, y1], color='black', lw=3, zorder=8, solid_capstyle='butt')
for x, y in zip(FLOW_ARROW_X, FLOW_ARROW_Y):
    d.plot(x, y, marker=(3, 0, 30), ms=7.5, color='black', zorder=8)
d.text(815, 620, 'Route 338', rotation=128, ha='center', va='center', fontsize=9, zorder=9, color='#222222', rotation_mode='anchor')
d.plot([803, 803, 1075], [SCALE_TICK_Y[0], SCALE_TICK_Y[-1], SCALE_TICK_Y[-1]], color='#333333', lw=0.9, zorder=9)
for y in SCALE_TICK_Y:
    d.plot([785, 803], [y, y], color='#333333', lw=0.8, zorder=9)
for x in SCALE_TICK_X:
    d.plot([x, x], [2653, 2635], color='#333333', lw=0.8, zorder=9)
sc = dict(fontsize=8, ha='center', va='center', zorder=9, color='#222222')
d.text(743, 1905, '5000', **sc)
d.text(785, 1868, 'm', **sc)
d.text(755, 2580, '500', **sc)
d.text(765, 2653, '0', **sc)
d.text(803, 2693, '0', **sc)
d.text(1090, 2693, '500 m', **sc)
d.annotate('', xy=(925, 2460), xytext=(853, 2620), arrowprops=dict(arrowstyle='-|>', lw=0.8, color='#222222', mutation_scale=8), zorder=9)
d.plot([842, 938], [2537, 2542], color='#222222', lw=0.8, zorder=9)
d.text(938, 2440, 'N', fontsize=12, style='italic', ha='center', va='center', zorder=9, rotation=-15, color='#222222')
box_lab(d, 1390, 30, 1500, 148, 'C')

# ---- panels A and B of the transects
AX0, AX1 = 1060, 1338
BX0, BX1 = 1387, 1666
PX_M = 7.0   # vertical px per m of elevation
PX_CM = 1.6  # vertical px per cm of deposit

for x0, x1 in [(AX0, AX1), (BX0, BX1)]:
    fr = ax_px(x0, ROW_TOP[0], x1, ROW_BOT[-1], zorder=1)
    fr.set_xlim(600, 0)
    fr.set_ylim(0, 1)
    fr.set_xticks([])
    fr.set_yticks([])
    for s in fr.spines.values():
        s.set_color('#555555')
        s.set_linewidth(1.0)
    for dist in [400, 200]:
        fr.axvline(dist, color='#333333', lw=0.9, ls=(0, (8, 7)))
    sc_ax = ax_px(x0, 888, x1, 889, zorder=1)
    sc_ax.set_xlim(600, 0)
    sc_ax.set_yticks([])
    for k in ['top', 'left', 'right']:
        sc_ax.spines[k].set_visible(False)
    sc_ax.spines['bottom'].set_color('#555555')
    sc_ax.patch.set_alpha(0)
    sc_ax.set_xticks(np.arange(0, 601, 100))
    sc_ax.set_xticks(np.arange(0, 601, 50), minor=True)
    sc_ax.tick_params(which='both', length=3.5, width=0.7, color='#555555', direction='out', pad=3, labelsize=6.8, labelcolor='#333333')
    sc_ax.set_xlabel('Distance from shoreline (m)', fontsize=7.6, labelpad=-1, color='#333333')

for i in range(13):
    top, bot = ROW_TOP[i], ROW_BOT[i]
    # land surface
    ra = ax_px(AX0, top, AX1, bot, zorder=2)
    ra.set_xlim(600, 0)
    ra.set_ylim(0, (bot - top) / PX_M)
    ra.axis('off')
    ra.axhline(0, color='#555555', lw=1.0, clip_on=False)
    if i < len(DUNE_D):
        ra.fill(DUNE_D[i], DUNE_E[i], facecolor='white', edgecolor='#555555', lw=0.4, hatch='---', zorder=2)
    if i >= 10:
        ra.fill(WALL_D[i - 10], WALL_E[i - 10], color='black', zorder=3, lw=0)
    ra.plot(PROF_D[i], PROF_E[i], color='#222222', lw=0.9, zorder=4, clip_on=False)
    j0, j1 = DOT_RANGE[i]
    ra.plot(PROF_D[i][j0:j1], PROF_E[i][j0:j1], ls='none', marker='o', ms=2.0, color='black', zorder=5)
    ra.plot([RUNUP_D[i]] * 2, [RUNUP_E[i] - 0.9, RUNUP_E[i] + 0.9], color='black', lw=1.1, zorder=5, clip_on=False)
    if RUNUP_TXT[i]:
        ra.annotate(RUNUP_TXT[i], (RUNUP_D[i], RUNUP_E[i]), xytext=(-4, 0), textcoords='offset points', ha='right', va='center',
                    fontsize=8, color='#333333', annotation_clip=False)
    if FLOW_FROM[i] is not None:
        ra.plot([FLOW_FROM[i], FLOW_TO[i]], [FLOW_E[i]] * 2, color='#333333', lw=0.7, ls=(0, (5, 3)), zorder=5)
        ra.plot(FLOW_MARK[i], [FLOW_E[i]] * len(FLOW_MARK[i]), ls='none', marker='D', ms=3, mfc='white', mec='#222222', mew=0.6, zorder=6)
        ra.text(FLOW_TXT_D[i], FLOW_TXT_E[i], FLOW_TXT[i], fontsize=8, ha='center', va='center', color='#333333', zorder=6)
    for k, ch in enumerate(LETTER):
        if LETTER_ROW[k] == i:
            ra.text(LETTER_D[k], LETTER_E[k], ch, fontsize=7.5, ha='center', va='center', color='#333333', zorder=6)
    if i == 0:
        small = dict(fontsize=6.6, ha='center', va='center', color='#444444', linespacing=1.25)
        ra.text(513, 7.0, 'Run-up\nheight', **small)
        ra.text(260, 7.2, 'flow\nheight', **small)
        ra.text(141, 6.3, 'Erosion\nsurface', **small)
        ra.text(60, 5.5, 'Dune', **small)
        ar = dict(arrowstyle='-|>', lw=0.6, color='#222222', mutation_scale=5)
        ra.annotate('', xy=(568, 4.7), xytext=(550, 6.0), arrowprops=ar)
        ra.annotate('', xy=(315, 5.5), xytext=(293, 6.8), arrowprops=ar)
        ra.annotate('', xy=(148, 1.7), xytext=(148, 4.5), arrowprops=ar)
    if i == 2:
        ra.plot([394, 352], [3.2, 5.3], color='#333333', lw=0.7, ls=(0, (4, 3)))
        ra.text(359, 5.9, '5.1', fontsize=8, ha='center', va='center', color='#333333')
    if i == 11:
        ra.text(28, 6.4, 'Seawall', fontsize=5.8, ha='center', va='center', color='#333333', weight='bold')

    # deposit
    rb = ax_px(BX0, top, BX1, bot, zorder=2)
    rb.set_xlim(600, 0)
    rb.set_ylim(0, (bot - top) / PX_CM)
    rb.axis('off')
    rb.axhline(0, color='#555555', lw=1.0, clip_on=False)
    edges = np.array(THK_E[i], dtype=float)
    heights = np.array(THK_H[i], dtype=float)
    widths = np.diff(edges)
    n = LAM_FROM[i]
    rb.bar(edges[:n], heights[:n], width=widths[:n], align='edge', facecolor='#6A6A6A', edgecolor='#222222', linewidth=0.7, zorder=3)
    rb.bar(edges[n:-1], heights[n:], width=widths[n:], align='edge', facecolor='white', edgecolor='#333333', linewidth=0.7, hatch='/////', zorder=3)

# ---- overlay in figure pixels
ov = ax_px(0, 0, W, H, zorder=10)
ov.set_xlim(0, W)
ov.set_ylim(H, 0)
ov.axis('off')


def ptext(x, y, s, size, ha='left', va='center', color='#222222', **kw):
    ov.text(x, y, s, fontsize=size, ha=ha, va=va, color=color, **kw)


def jtext(x, y, s, size, ha='left', weight='normal', color=TXT):
    ov.text(x, y, s, fontsize=size, ha=ha, va='center', color=color, family=JP, weight=weight)


def brace(x, y0, ym, y1, side):
    # side = -1 points left, +1 points right
    h = -side * 10
    ov.plot([x + h, x + 2 * -side, x, x, x + 2 * -side, x + h], [y0, y0, y0 + 3, y1 - 3, y1, y1], color='#333333', lw=1.0)
    ov.plot([x + side * 14, x + side * 2, x], [ym, ym, ym + 2], color='#333333', lw=1.0)


# white gaps under the two scales
ov.add_patch(Rectangle((1066, 660), 97, 4, facecolor='white', edgecolor='none', zorder=1))
ov.add_patch(Rectangle((1403, 724), 105, 4, facecolor='white', edgecolor='none', zorder=1))

# yellow arrows
ov.add_patch(Rectangle((1002, 53), 58, 25, facecolor='#FFFF00', edgecolor=DARK, linewidth=2.6, zorder=1))
ov.add_patch(Polygon([(1667, 53), (1693, 53), (1693, 38), (1725, 65), (1693, 91), (1693, 78), (1667, 78)], closed=True, facecolor='#FFFF00',
                     edgecolor=DARK, linewidth=2.6, zorder=1))

# headline boxes
ov.add_patch(Rectangle((632, 23), 368, 92, facecolor=ORANGE, edgecolor=DARK, linewidth=3.8, zorder=2))
jtext(640, 50, '海岸付近の地形と', 20.9, weight='bold')
jtext(640, 86, '津波堆積物の供給源の有無', 20.9, weight='bold')
ov.add_patch(Rectangle((1729, 20), 366, 90, facecolor=BLUE, edgecolor=DARK, linewidth=3.8, zorder=2))
jtext(1736, 65, '津波堆積物厚さなどの特徴', 19.9, weight='bold')

# note boxes
ov.add_patch(Rectangle((632, 287), 368, 113, facecolor=ORANGE, edgecolor='#555555', linewidth=1.0, zorder=2))
jtext(646, 313, '・', 16, ha='center')
jtext(659, 313, '低地が比較的広い', 18.3)
jtext(646, 345, '・', 16, ha='center')
jtext(659, 345, '砂丘(津波堆積物の供給源)', 18.8)
jtext(659, 377, 'が海岸付近に存在', 17.5)
ov.add_patch(Rectangle((632, 722), 368, 112, facecolor=ORANGE, edgecolor='#444444', linewidth=1.3, zorder=2))
jtext(646, 747, '・', 16, ha='center')
jtext(659, 747, '低地が比較的狭い', 18.3)
jtext(646, 778, '・', 16, ha='center')
jtext(659, 778, 'コンクリート堤防が海岸線', 16.2)
jtext(659, 810, '付近に存在', 18)
ov.add_patch(Rectangle((1727, 273), 363, 145, facecolor=BLUE, edgecolor='#444444', linewidth=1.0, zorder=2))
jtext(1740, 298, '・', 14, ha='center')
jtext(1756, 298, '特に砂丘の陸側に厚く堆積し', 16.2)
jtext(1756, 331, '陸側に向かうほど薄くなるものの', 15.5)
jtext(1756, 363, 'ほぼ浸水限界まで堆積が認め', 16)
jtext(1756, 395, 'られる', 15.5)
ov.add_patch(Rectangle((1727, 752), 363, 51, facecolor=BLUE, edgecolor='#444444', linewidth=1.0, zorder=2))
jtext(1735, 778, '・', 13, ha='center')
jtext(1746, 778, '薄くまばらに堆積している', 15.5)

brace(1033, 37, 345, 653, -1)
brace(1033, 668, 778, 886, -1)
brace(1695, 37, 345, 653, 1)
brace(1695, 668, 778, 886, 1)

# captions
jtext(300, 938, '調査範囲および調査測線', 21.6, ha='center')
jtext(872, 934, '各調査測線の', 22)
jtext(1079, 934, '(A)地形・浸水高', 22.5)
jtext(1369, 934, '(B)津波堆積物の厚さ', 22)

# panel headers
for x0, x1, y0, y1, s, size in [(1060, 1091, 7, 36, 'A', 12), (1632, 1666, 7, 36, 'B', 12), (1337, 1388, 7, 36, 'Transect\nNo.', 8)]:
    ov.add_patch(Rectangle((x0, y0), x1 - x0, y1 - y0, facecolor='white', edgecolor='#777777', linewidth=0.9, zorder=2))
    ptext((x0 + x1) / 2, (y0 + y1) / 2, s, size, ha='center', zorder=3, linespacing=1.2)
ptext(1202, 13, 'Land surface profile,', 10.2, ha='center', color='#333333')
ptext(1202, 31, 'run-up height, and flow height', 10.2, ha='center', color='#333333')
ptext(1525, 13, 'Thickness of', 10.2, ha='center', color='#333333')
ptext(1525, 31, 'the 2011 Tsunami deposit', 10.2, ha='center', color='#333333')
for k, y in enumerate(ROW_NO_Y):
    ptext(1362, y, str(k + 1), 18, ha='center')

# elevation scale
ov.plot([1082, 1079, 1079, 1082], [632, 632, 702, 702], color='#333333', lw=0.9)
for v in range(1, 10):
    ov.plot([1079, 1083], [702 - v * PX_M] * 2, color='#333333', lw=0.7)
ptext(1084, 632, '10', 6.3)
ptext(1084, 667, '5', 6.3)
ptext(1084, 702, '0', 6.3)
ptext(1124, 664, 'Elevation', 9.3, ha='center', color='#333333')
ptext(1124, 679, '(m)', 9.3, ha='center', color='#333333')

# deposit scale
ov.plot([1408, 1403, 1403, 1408], [722, 722, 769, 769], color='#333333', lw=0.9)
for v in [10, 20]:
    ov.plot([1403, 1408], [769 - v * PX_CM] * 2, color='#333333', lw=0.7)
ptext(1409, 722, '30', 6.3)
ptext(1409, 769, '0', 6.3)
ptext(1420, 739, 'Deposit', 9.3, color='#333333')
ptext(1420, 754, 'thickness (cm)', 9.3, color='#333333')

# panel A legend
ov.add_patch(Rectangle((1066, 723), 126, 156, facecolor='white', edgecolor='#444444', linewidth=1.1, zorder=4))
ltxt = dict(zorder=5, color='#333333')
ptext(1082, 744, '7.5', 8.2, ha='center', **ltxt)
ov.plot([1092, 1092], [735, 748], color='black', lw=1.1, zorder=5)
ov.plot([1092, 1097], [742, 742], color='black', lw=0.8, zorder=5)
ptext(1104, 738, 'run-up limit and', 7.8, **ltxt)
ptext(1104, 750, 'its height (masl)', 7.8, **ltxt)
ov.plot(1089, 777, 'o', ms=2.6, color='black', zorder=5)
ptext(1103, 776, 'deposit thickness', 7.8, **ltxt)
ptext(1109, 787, 'measured point', 7.8, **ltxt)
ov.plot(1089, 808, marker='D', ms=3.2, mfc='white', mec='#222222', mew=0.6, zorder=5)
ptext(1106, 809, 'flow height', 7.8, **ltxt)
ptext(1112, 821, 'measured point', 7.8, **ltxt)
ov.plot([1076, 1101], [850, 850], color='#333333', lw=0.9, ls=(0, (5, 3)), zorder=5)
ptext(1099, 843, '8.1', 8, ha='right', **ltxt)
ptext(1118, 843, 'estimated flow', 7.8, **ltxt)
ptext(1118, 854, 'level and its', 7.8, **ltxt)
ptext(1118, 866, 'height (masl)', 7.8, **ltxt)

# panel B legend
ov.add_patch(Rectangle((1393, 787), 116, 92, facecolor='white', edgecolor='#444444', linewidth=1.1, zorder=4))
ptext(1450, 797, 'Tsunami Deposit', 7.8, ha='center', **ltxt)
ov.add_patch(Rectangle((1401, 821), 14, 17, facecolor='white', edgecolor='#333333', linewidth=0.8, hatch='/////', zorder=5))
ov.add_patch(Rectangle((1415, 815), 15, 23, facecolor='white', edgecolor='#333333', linewidth=0.8, hatch='/////', zorder=5))
ov.add_patch(Rectangle((1401, 853), 14, 16, facecolor='#6A6A6A', edgecolor='#222222', linewidth=0.9, zorder=5))
ov.add_patch(Rectangle((1415, 847), 15, 22, facecolor='#6A6A6A', edgecolor='#222222', linewidth=0.9, zorder=5))
ptext(1437, 819, 'with apparent', 7.8, **ltxt)
ptext(1437, 831, 'lamination', 7.8, **ltxt)
ptext(1437, 862, 'others', 7.8, **ltxt)

fig.savefig('out.png', dpi=100)
